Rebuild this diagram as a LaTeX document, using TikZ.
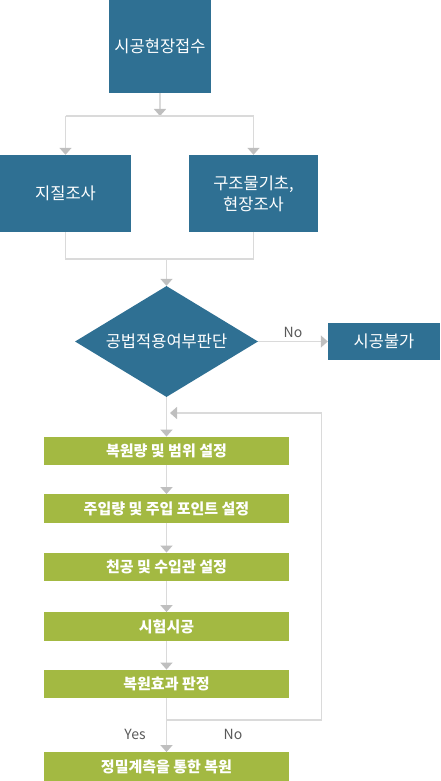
\documentclass[tikz,border=0pt]{standalone}
\usepackage{fontspec}
\setmainfont{Noto Sans CJK KR}
\usetikzlibrary{arrows.meta,shapes.geometric,positioning}
\definecolor{flowblue}{RGB}{47,112,147}
\definecolor{flowgreen}{RGB}{163,185,66}
\definecolor{flowline}{RGB}{218,218,218}
\definecolor{flowtip}{RGB}{191,191,191}
\definecolor{flowtext}{RGB}{89,89,89}

\begin{document}
\begin{tikzpicture}[x=1pt,y=-1pt,
  bluebox/.style={fill=flowblue,text=white,inner sep=0pt,align=center,font=\fontsize{16.5}{21}\selectfont},
  greenbox/.style={fill=flowgreen,text=white,inner sep=0pt,minimum width=245pt,minimum height=28.5pt,font=\bfseries\fontsize{15}{17}\selectfont},
  link/.style={draw=flowline,line width=1.5pt},
  arr/.style={link,-{Triangle[width=12pt,length=7pt,color=flowtip]}},
  lbl/.style={text=flowtext,font=\fontsize{14}{16}\selectfont}]
  \useasboundingbox (0,0) rectangle (441,781);
  \node[bluebox,minimum width=102pt,minimum height=93pt] (start) at (160,46.5) {시공현장접수};
  \node[bluebox,minimum width=131pt,minimum height=77pt] (geo) at (65.5,193.5) {지질조사};
  \node[bluebox,minimum width=129pt,minimum height=77pt] (struct) at (253.5,193.5) {구조물기초,\\현장조사};
  \node[bluebox,diamond,shape aspect=1.65,minimum width=183pt,minimum height=111pt] (judge) at (166.5,341.5) {공법적용여부판단};
  \node[bluebox,minimum width=112pt,minimum height=37pt] (fail) at (384,341.5) {시공불가};
  \node[greenbox] (s1) at (166.5,451) {복원량 및 범위 설정};
  \node[greenbox] (s2) at (166.5,508.5) {주입량 및 주입 포인트 설정};
  \node[greenbox] (s3) at (166.5,567) {천공 및 수입관 설정};
  \node[greenbox] (s4) at (166.5,626.5) {시험시공};
  \node[greenbox] (s5) at (166.5,684) {복원효과 판정};
  \node[greenbox] (s6) at (166.5,766.5) {정밀계측을 통한 복원};
  \coordinate (split) at (160,116);
  \coordinate (merge) at (166.5,259);
  \coordinate (loopin) at (166.5,413);
  \coordinate (loopout) at (166.5,720);
  \draw[arr] (start.south) -- (split);
  \draw[link] (split -| geo) -- (split -| struct);
  \draw[arr] (split -| geo) -- (geo.north);
  \draw[arr] (split -| struct) -- (struct.north);
  \draw[link] (geo.south) |- (merge) -| (struct.south);
  \draw[arr] (merge) -- (judge.north);
  \draw[arr] (judge.east) -- node[lbl,above]{No} (fail.west);
  \draw[arr] (judge.south) -- (s1.north);
  \foreach \a/\b in {s1/s2,s2/s3,s3/s4,s4/s5,s5/s6}
    \draw[arr] (\a.south) -- (\b.north);
  \draw[arr] (loopout) -- (321.5,720) |- ([xshift=3.5pt]loopin);
  \node[lbl] (yes) at (135,734) {Yes};
  \node[lbl] (no) at (233,734) {No};
\end{tikzpicture}
\end{document}
